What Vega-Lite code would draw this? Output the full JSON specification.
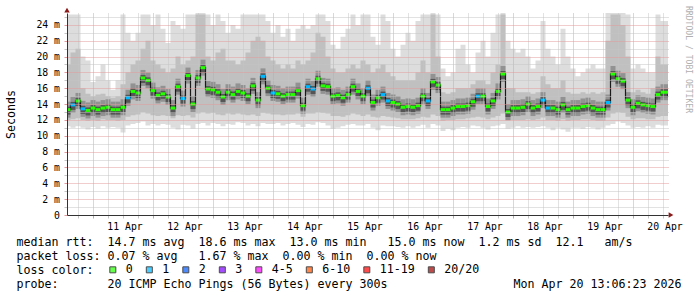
{
  "$schema": "https://vega.github.io/schema/vega-lite/v6.json",
  "width": 601,
  "height": 202,
  "autosize": {"type": "none"},
  "padding": {"left": 67, "top": 13, "right": 29, "bottom": 82},
  "background": "white",
  "config": {"view": {"stroke": null}, "font": "DejaVu Sans Mono"},
  "data": {"values": [
    {"h":13,"e":15,"m":13.3,"l":"0","mn":11.2,"lo":12.0,"hi":19.0,"mx":25.3},
    {"h":15,"e":17,"m":13.9,"l":"1","mn":11.0,"lo":12.1,"hi":20.5,"mx":25.3},
    {"h":17,"e":19,"m":14.4,"l":"0","mn":11.2,"lo":12.2,"hi":21.0,"mx":25.3},
    {"h":19,"e":21,"m":13.4,"l":"1","mn":11.0,"lo":12.0,"hi":16.0,"mx":20.0},
    {"h":21,"e":23,"m":13.2,"l":"0","mn":10.8,"lo":11.9,"hi":15.3,"mx":19.5},
    {"h":23,"e":25,"m":13.5,"l":"0","mn":11.1,"lo":12.0,"hi":15.0,"mx":16.8},
    {"h":25,"e":27,"m":13.3,"l":"0","mn":10.9,"lo":11.9,"hi":15.2,"mx":17.5},
    {"h":27,"e":29,"m":13.5,"l":"0","mn":11.2,"lo":12.1,"hi":15.3,"mx":19.0},
    {"h":29,"e":31,"m":13.6,"l":"0","mn":11.0,"lo":12.0,"hi":15.0,"mx":17.0},
    {"h":31,"e":33,"m":13.3,"l":"0","mn":11.1,"lo":12.0,"hi":14.8,"mx":15.8},
    {"h":33,"e":35,"m":13.3,"l":"0","mn":11.0,"lo":11.9,"hi":15.0,"mx":17.0},
    {"h":35,"e":37,"m":13.6,"l":"0","mn":10.4,"lo":12.0,"hi":16.5,"mx":25.3},
    {"h":37,"e":39,"m":14.8,"l":"1","mn":11.3,"lo":12.4,"hi":18.0,"mx":23.0},
    {"h":39,"e":41,"m":15.6,"l":"0","mn":11.5,"lo":12.6,"hi":19.0,"mx":22.0},
    {"h":41,"e":43,"m":15.4,"l":"0","mn":11.6,"lo":12.7,"hi":19.5,"mx":23.0},
    {"h":43,"e":45,"m":17.3,"l":"0","mn":11.8,"lo":13.0,"hi":21.0,"mx":25.3},
    {"h":45,"e":47,"m":17.0,"l":"0","mn":11.3,"lo":12.8,"hi":22.0,"mx":25.3},
    {"h":47,"e":49,"m":15.7,"l":"0","mn":11.5,"lo":12.6,"hi":19.5,"mx":24.0},
    {"h":49,"e":51,"m":15.1,"l":"0","mn":11.3,"lo":12.5,"hi":19.0,"mx":25.3},
    {"h":51,"e":53,"m":15.3,"l":"0","mn":11.5,"lo":12.6,"hi":18.5,"mx":23.5},
    {"h":53,"e":55,"m":14.9,"l":"0","mn":11.4,"lo":12.5,"hi":18.0,"mx":21.7},
    {"h":55,"e":57,"m":13.5,"l":"0","mn":11.0,"lo":12.2,"hi":18.5,"mx":24.5},
    {"h":57,"e":59,"m":16.2,"l":"0","mn":10.8,"lo":12.6,"hi":20.0,"mx":24.0},
    {"h":59,"e":61,"m":14.7,"l":"1","mn":11.4,"lo":12.5,"hi":19.0,"mx":23.5},
    {"h":61,"e":63,"m":17.6,"l":"0","mn":11.3,"lo":12.6,"hi":19.5,"mx":25.3},
    {"h":63,"e":65,"m":14.0,"l":"0","mn":10.9,"lo":12.3,"hi":20.0,"mx":25.3},
    {"h":65,"e":67,"m":17.3,"l":"0","mn":11.5,"lo":12.8,"hi":25.3,"mx":25.5},
    {"h":67,"e":69,"m":18.6,"l":"0","mn":11.6,"lo":13.0,"hi":25.3,"mx":25.5},
    {"h":69,"e":71,"m":15.9,"l":"0","mn":11.3,"lo":12.8,"hi":20.0,"mx":25.3},
    {"h":71,"e":73,"m":15.8,"l":"0","mn":11.6,"lo":12.9,"hi":19.5,"mx":24.0},
    {"h":73,"e":75,"m":15.5,"l":"0","mn":11.5,"lo":12.7,"hi":20.5,"mx":25.3},
    {"h":75,"e":77,"m":14.9,"l":"0","mn":11.2,"lo":12.6,"hi":21.0,"mx":24.5},
    {"h":77,"e":79,"m":15.5,"l":"0","mn":11.5,"lo":12.8,"hi":19.5,"mx":23.0},
    {"h":79,"e":81,"m":15.2,"l":"0","mn":11.4,"lo":12.7,"hi":19.5,"mx":24.0},
    {"h":81,"e":83,"m":15.6,"l":"0","mn":11.7,"lo":12.8,"hi":19.0,"mx":23.5},
    {"h":83,"e":85,"m":15.4,"l":"0","mn":11.6,"lo":12.7,"hi":19.5,"mx":25.3},
    {"h":85,"e":87,"m":15.0,"l":"0","mn":11.3,"lo":12.6,"hi":20.5,"mx":25.3},
    {"h":87,"e":89,"m":16.3,"l":"0","mn":11.5,"lo":12.7,"hi":22.0,"mx":25.3},
    {"h":89,"e":91,"m":14.5,"l":"0","mn":11.2,"lo":12.5,"hi":22.5,"mx":25.3},
    {"h":91,"e":93,"m":17.5,"l":"1","mn":11.6,"lo":12.9,"hi":22.0,"mx":25.3},
    {"h":93,"e":95,"m":16.0,"l":"0","mn":11.5,"lo":12.8,"hi":20.0,"mx":24.5},
    {"h":95,"e":97,"m":15.4,"l":"1","mn":11.5,"lo":12.7,"hi":19.5,"mx":23.0},
    {"h":97,"e":99,"m":15.3,"l":"0","mn":11.6,"lo":12.7,"hi":19.0,"mx":24.0},
    {"h":99,"e":101,"m":15.0,"l":"0","mn":11.3,"lo":12.6,"hi":18.5,"mx":22.5},
    {"h":101,"e":103,"m":15.2,"l":"0","mn":11.5,"lo":12.7,"hi":19.0,"mx":23.5},
    {"h":103,"e":105,"m":15.2,"l":"0","mn":11.6,"lo":12.7,"hi":18.5,"mx":22.0},
    {"h":105,"e":107,"m":15.7,"l":"0","mn":11.4,"lo":12.8,"hi":19.5,"mx":23.5},
    {"h":107,"e":109,"m":13.8,"l":"0","mn":11.1,"lo":12.4,"hi":19.0,"mx":24.0},
    {"h":109,"e":111,"m":16.2,"l":"1","mn":11.5,"lo":12.8,"hi":19.5,"mx":23.5},
    {"h":111,"e":113,"m":15.9,"l":"1","mn":11.4,"lo":12.8,"hi":20.5,"mx":24.0},
    {"h":113,"e":115,"m":17.2,"l":"0","mn":11.7,"lo":13.0,"hi":23.0,"mx":25.3},
    {"h":115,"e":117,"m":16.3,"l":"0","mn":11.6,"lo":12.9,"hi":22.5,"mx":25.3},
    {"h":117,"e":119,"m":16.2,"l":"0","mn":11.3,"lo":12.8,"hi":20.0,"mx":24.5},
    {"h":119,"e":121,"m":15.0,"l":"0","mn":10.9,"lo":12.5,"hi":18.5,"mx":21.5},
    {"h":121,"e":123,"m":15.1,"l":"0","mn":11.0,"lo":12.5,"hi":18.0,"mx":21.0},
    {"h":123,"e":125,"m":14.8,"l":"0","mn":11.2,"lo":12.4,"hi":18.0,"mx":22.5},
    {"h":125,"e":127,"m":15.2,"l":"0","mn":11.4,"lo":12.6,"hi":18.5,"mx":23.5},
    {"h":127,"e":129,"m":16.2,"l":"0","mn":11.5,"lo":12.8,"hi":19.0,"mx":25.3},
    {"h":129,"e":131,"m":15.6,"l":"0","mn":11.3,"lo":12.7,"hi":18.5,"mx":24.0},
    {"h":131,"e":133,"m":15.0,"l":"0","mn":11.3,"lo":12.5,"hi":19.5,"mx":25.3},
    {"h":133,"e":135,"m":16.0,"l":"1","mn":11.5,"lo":12.7,"hi":19.0,"mx":25.3},
    {"h":135,"e":137,"m":14.2,"l":"0","mn":11.0,"lo":12.4,"hi":18.0,"mx":22.5},
    {"h":137,"e":139,"m":14.8,"l":"0","mn":10.7,"lo":12.3,"hi":18.5,"mx":21.5},
    {"h":139,"e":141,"m":15.2,"l":"1","mn":11.3,"lo":12.5,"hi":19.0,"mx":25.3},
    {"h":141,"e":143,"m":14.4,"l":"1","mn":11.2,"lo":12.4,"hi":18.0,"mx":24.5},
    {"h":143,"e":145,"m":14.2,"l":"0","mn":11.2,"lo":12.3,"hi":17.5,"mx":21.0},
    {"h":145,"e":147,"m":14.0,"l":"0","mn":11.1,"lo":12.2,"hi":17.0,"mx":20.0},
    {"h":147,"e":149,"m":13.6,"l":"0","mn":11.0,"lo":12.1,"hi":17.0,"mx":21.5},
    {"h":149,"e":151,"m":13.7,"l":"0","mn":11.2,"lo":12.1,"hi":17.0,"mx":23.0},
    {"h":151,"e":153,"m":13.6,"l":"0","mn":11.0,"lo":12.1,"hi":17.0,"mx":22.0},
    {"h":153,"e":155,"m":13.8,"l":"0","mn":11.2,"lo":12.2,"hi":18.0,"mx":24.5},
    {"h":155,"e":157,"m":15.0,"l":"0","mn":11.4,"lo":12.4,"hi":19.5,"mx":25.3},
    {"h":157,"e":159,"m":14.4,"l":"1","mn":11.0,"lo":12.3,"hi":18.0,"mx":25.3},
    {"h":159,"e":161,"m":16.8,"l":"0","mn":11.5,"lo":12.7,"hi":25.3,"mx":25.5},
    {"h":161,"e":163,"m":16.4,"l":"0","mn":11.3,"lo":12.5,"hi":20.0,"mx":25.3},
    {"h":163,"e":165,"m":13.3,"l":"0","mn":10.6,"lo":11.9,"hi":15.5,"mx":18.5},
    {"h":165,"e":167,"m":13.3,"l":"0","mn":10.9,"lo":12.0,"hi":15.3,"mx":17.5},
    {"h":167,"e":169,"m":13.5,"l":"0","mn":10.7,"lo":12.0,"hi":15.5,"mx":18.0},
    {"h":169,"e":171,"m":13.7,"l":"0","mn":11.0,"lo":12.1,"hi":16.0,"mx":21.0},
    {"h":171,"e":173,"m":13.7,"l":"0","mn":11.1,"lo":12.1,"hi":16.0,"mx":21.5},
    {"h":173,"e":175,"m":13.8,"l":"0","mn":11.0,"lo":12.2,"hi":16.0,"mx":19.0},
    {"h":175,"e":177,"m":14.3,"l":"0","mn":11.3,"lo":12.3,"hi":16.5,"mx":18.0},
    {"h":177,"e":179,"m":15.0,"l":"1","mn":11.2,"lo":12.4,"hi":17.0,"mx":20.5},
    {"h":179,"e":181,"m":15.0,"l":"0","mn":11.0,"lo":12.3,"hi":17.0,"mx":22.0},
    {"h":181,"e":183,"m":13.7,"l":"0","mn":10.8,"lo":12.1,"hi":16.5,"mx":20.0},
    {"h":183,"e":185,"m":14.4,"l":"0","mn":11.2,"lo":12.3,"hi":18.0,"mx":23.0},
    {"h":185,"e":187,"m":15.6,"l":"0","mn":11.3,"lo":12.5,"hi":19.0,"mx":25.3},
    {"h":187,"e":189,"m":17.8,"l":"0","mn":11.5,"lo":12.8,"hi":25.3,"mx":25.5},
    {"h":189,"e":191,"m":13.0,"l":"0","mn":10.9,"lo":11.9,"hi":16.0,"mx":22.0},
    {"h":191,"e":193,"m":13.5,"l":"0","mn":11.0,"lo":12.0,"hi":16.0,"mx":21.0},
    {"h":193,"e":195,"m":13.5,"l":"0","mn":11.2,"lo":12.0,"hi":15.5,"mx":20.5},
    {"h":195,"e":197,"m":13.6,"l":"0","mn":11.0,"lo":12.0,"hi":15.5,"mx":21.0},
    {"h":197,"e":199,"m":14.0,"l":"0","mn":11.1,"lo":12.1,"hi":15.5,"mx":20.0},
    {"h":199,"e":201,"m":13.5,"l":"0","mn":11.0,"lo":12.0,"hi":15.3,"mx":18.5},
    {"h":201,"e":203,"m":13.7,"l":"0","mn":11.1,"lo":12.1,"hi":15.5,"mx":19.5},
    {"h":203,"e":205,"m":14.5,"l":"1","mn":11.2,"lo":12.3,"hi":17.5,"mx":24.5},
    {"h":205,"e":207,"m":13.5,"l":"1","mn":11.0,"lo":12.0,"hi":16.5,"mx":21.0},
    {"h":207,"e":209,"m":13.5,"l":"0","mn":10.7,"lo":12.0,"hi":16.0,"mx":20.0},
    {"h":209,"e":211,"m":13.3,"l":"0","mn":11.0,"lo":11.9,"hi":16.0,"mx":19.0},
    {"h":211,"e":213,"m":13.9,"l":"0","mn":10.8,"lo":12.1,"hi":17.0,"mx":23.5},
    {"h":213,"e":215,"m":13.3,"l":"0","mn":10.5,"lo":11.9,"hi":15.5,"mx":20.0},
    {"h":215,"e":217,"m":13.5,"l":"0","mn":11.0,"lo":12.0,"hi":15.3,"mx":18.5},
    {"h":217,"e":219,"m":13.5,"l":"0","mn":11.0,"lo":12.0,"hi":15.3,"mx":17.5},
    {"h":219,"e":221,"m":13.7,"l":"0","mn":10.9,"lo":12.1,"hi":15.5,"mx":18.0},
    {"h":221,"e":223,"m":13.8,"l":"0","mn":11.1,"lo":12.1,"hi":15.3,"mx":18.5},
    {"h":223,"e":225,"m":13.5,"l":"0","mn":11.0,"lo":12.0,"hi":15.5,"mx":19.0},
    {"h":225,"e":227,"m":13.3,"l":"0","mn":10.8,"lo":11.9,"hi":15.3,"mx":18.5},
    {"h":227,"e":229,"m":13.3,"l":"0","mn":11.0,"lo":11.9,"hi":15.5,"mx":18.5},
    {"h":229,"e":231,"m":14.2,"l":"1","mn":11.3,"lo":12.3,"hi":22.0,"mx":25.5},
    {"h":231,"e":233,"m":17.8,"l":"0","mn":11.5,"lo":12.8,"hi":25.3,"mx":25.5},
    {"h":233,"e":235,"m":17.2,"l":"0","mn":11.8,"lo":13.0,"hi":25.3,"mx":25.5},
    {"h":235,"e":237,"m":16.9,"l":"0","mn":11.6,"lo":12.9,"hi":24.0,"mx":25.5},
    {"h":237,"e":239,"m":14.5,"l":"0","mn":11.3,"lo":12.4,"hi":20.0,"mx":25.3},
    {"h":239,"e":241,"m":13.6,"l":"0","mn":11.0,"lo":12.1,"hi":15.5,"mx":18.5},
    {"h":241,"e":243,"m":14.1,"l":"0","mn":11.1,"lo":12.2,"hi":15.8,"mx":19.0},
    {"h":243,"e":245,"m":13.9,"l":"0","mn":11.0,"lo":12.2,"hi":15.5,"mx":18.5},
    {"h":245,"e":247,"m":13.8,"l":"0","mn":11.2,"lo":12.1,"hi":15.3,"mx":18.0},
    {"h":247,"e":249,"m":13.7,"l":"0","mn":11.0,"lo":12.1,"hi":16.0,"mx":18.0},
    {"h":249,"e":251,"m":15.2,"l":"0","mn":11.4,"lo":12.4,"hi":20.0,"mx":25.3},
    {"h":251,"e":254,"m":15.5,"l":"0","mn":11.3,"lo":12.5,"hi":19.0,"mx":24.5},
    {"h":254,"e":254,"m":15.0,"l":"0","mn":11.3,"lo":12.5,"hi":19.0,"mx":24.5}
  ]},
  "layer": [
    {
      "mark": {"type": "area", "interpolate": "step-after", "color": "#dddddd", "clip": true},
      "encoding": {
        "x": {
          "field": "h", "type": "quantitative",
          "scale": {"domain": [13.6, 254], "nice": false, "zero": false},
          "axis": {
            "orient": "bottom",
            "values": [18,24,30,36,42,48,54,60,66,72,78,84,90,96,102,108,114,120,126,132,138,144,150,156,162,168,174,180,186,192,198,204,210,216,222,228,234,240,246,252],
            "labelExpr": "datum.value % 24 == 12 ? (floor(datum.value / 24) + 10) + ' Apr' : ''",
            "grid": true,
            "gridColor": {"condition": {"test": "datum.value % 24 == 0", "value": "#e39a9a"}, "value": "#c4c4c4"},
            "gridDash": [1, 1],
            "gridWidth": 1,
            "ticks": true,
            "tickSize": 3,
            "tickColor": {"condition": {"test": "datum.value % 24 == 0", "value": "#e39a9a"}, "value": "#c4c4c4"},
            "domainColor": "#333333",
            "labelFont": "DejaVu Sans Mono",
            "labelFontSize": 9.8,
            "labelColor": "#000000",
            "labelPadding": 3,
            "labelOffset": 1.5,
            "labelFlush": false,
            "labelOverlap": false,
            "labelBound": false,
            "zindex": 1,
            "title": [
              "median rtt:\u00a0\u00a014.7 ms avg\u00a0\u00a018.6 ms max\u00a0\u00a013.0 ms min\u00a0\u00a0\u00a015.0 ms now\u00a0\u00a01.2 ms sd\u00a0\u00a012.1\u00a0\u00a0\u00a0am/s",
              "packet loss:\u00a00.07 % avg\u00a0\u00a0\u00a01.67 % max\u00a0\u00a00.00 % min\u00a0\u00a00.00 % now",
              "loss color:",
              "probe:\u00a0\u00a0\u00a0\u00a0\u00a0\u00a0\u00a020 ICMP Echo Pings (56 Bytes) every 300s\u00a0\u00a0\u00a0\u00a0\u00a0\u00a0\u00a0\u00a0\u00a0\u00a0\u00a0\u00a0\u00a0\u00a0\u00a0\u00a0\u00a0\u00a0Mon Apr 20 13:06:23 2026"
            ],
            "titleX": -51,
            "titleY": 30,
            "titleAlign": "left",
            "titleBaseline": "alphabetic",
            "titleFont": "DejaVu Sans Mono",
            "titleFontSize": 11.63,
            "titleFontWeight": "normal",
            "titleColor": "#000000",
            "titleLineHeight": 14
          }
        },
        "y": {
          "field": "mn", "type": "quantitative",
          "scale": {"domain": [0, 25.5], "nice": false},
          "axis": {
            "orient": "left",
            "values": [0,1,2,3,4,5,6,7,8,9,10,11,12,13,14,15,16,17,18,19,20,21,22,23,24,25],
            "labelExpr": "datum.value % 2 == 0 ? (datum.value == 0 ? '0' : datum.value + ' m') : ''",
            "grid": true,
            "gridColor": {"condition": {"test": "datum.value % 2 == 0", "value": "#e39a9a"}, "value": "#c4c4c4"},
            "gridDash": [1, 1],
            "gridWidth": 1,
            "ticks": true,
            "tickSize": 3,
            "tickColor": {"condition": {"test": "datum.value % 2 == 0", "value": "#e39a9a"}, "value": "#c4c4c4"},
            "domainColor": "#333333",
            "labelFont": "DejaVu Sans Mono",
            "labelFontSize": 9.8,
            "labelColor": "#000000",
            "labelPadding": 4.5,
            "labelFlush": false,
            "labelOverlap": false,
            "labelBound": false,
            "zindex": 1,
            "title": "Seconds",
            "titleX": -56,
            "titleY": 101,
            "titleAngle": -90,
            "titleAlign": "center",
            "titleBaseline": "middle",
            "titleFont": "DejaVu Sans Mono",
            "titleFontSize": 11.63,
            "titleFontWeight": "normal",
            "titleColor": "#000000"
          }
        },
        "y2": {"field": "mx"}
      }
    },
    {
      "mark": {"type": "area", "interpolate": "step-after", "color": "#c0c0c0", "clip": true},
      "encoding": {
        "x": {"field": "h", "type": "quantitative", "axis": null},
        "y": {"field": "lo", "type": "quantitative", "axis": null},
        "y2": {"field": "hi"}
      }
    },
    {
      "mark": {"type": "rule", "strokeWidth": 16, "strokeCap": "butt", "color": "#929292", "clip": true},
      "encoding": {
        "x": {"field": "h", "type": "quantitative", "axis": null},
        "x2": {"field": "e"},
        "y": {"field": "m", "type": "quantitative", "axis": null}
      }
    },
    {
      "mark": {"type": "rule", "strokeWidth": 8, "strokeCap": "butt", "color": "#555555", "yOffset": 1, "clip": true},
      "encoding": {
        "x": {"field": "h", "type": "quantitative", "axis": null},
        "x2": {"field": "e"},
        "y": {"field": "m", "type": "quantitative", "axis": null}
      }
    },
    {
      "mark": {"type": "line", "interpolate": "step-after", "color": "#1a1a1a", "strokeWidth": 1.2, "clip": true},
      "encoding": {
        "x": {"field": "h", "type": "quantitative", "axis": null},
        "y": {"field": "m", "type": "quantitative", "axis": null}
      }
    },
    {
      "mark": {"type": "rule", "strokeWidth": 3, "strokeCap": "butt", "clip": true},
      "encoding": {
        "x": {"field": "h", "type": "quantitative", "axis": null},
        "x2": {"field": "e"},
        "y": {"field": "m", "type": "quantitative", "axis": null},
        "stroke": {
          "field": "l", "type": "nominal", "legend": null,
          "scale": {"range": ["#26ff00","#00b8ff"]}
        }
      }
    },
    {
      "mark": {"type": "point", "shape": "square", "filled": true, "size": 0, "clip": true},
      "encoding": {
        "x": {"field": "h", "type": "quantitative", "axis": null},
        "y": {"field": "m", "type": "quantitative", "axis": null},
        "fill": {
          "field": "l", "type": "nominal",
          "scale": {"domain": ["0","1","2","3","4-5","6-10","11-19","20/20"], "range": ["#26ff00","#00b8ff","#0059ff","#7e00ff","#ff00ff","#ff5500","#ff0000","#a10000"]},
          "legend": {
            "orient": "none", "legendX": 40, "legendY": 251,
            "direction": "horizontal", "columns": 8, "gridAlign": "none",
            "title": null, "padding": 0, "offset": 0,
            "symbolType": "square", "symbolSize": 36,
            "symbolStrokeColor": "#000000", "symbolStrokeWidth": 1,
            "labelFont": "DejaVu Sans Mono", "labelFontSize": 11.63, "labelColor": "#000000",
            "labelOffset": 7, "columnPadding": 10.5, "rowPadding": 0
          }
        }
      }
    },
    {
      "data": {"values": [{"k": 1}]},
      "mark": {"type": "point", "shape": "triangle-right", "filled": true, "color": "#8b1a1a", "size": 30, "opacity": 1, "clip": false},
      "encoding": {
        "x": {"datum": 255.2, "axis": null},
        "y": {"datum": 0, "axis": null}
      }
    },
    {
      "data": {"values": [{"k": 1}]},
      "mark": {"type": "point", "shape": "triangle-up", "filled": true, "color": "#8b1a1a", "size": 30, "opacity": 1, "clip": false},
      "encoding": {
        "x": {"datum": 13.6, "axis": null},
        "y": {
          "datum": 25.85,
          "axis": {
            "orient": "right", "labels": false, "ticks": false, "domain": false, "grid": false,
            "title": "RRDTOOL / TOBI OETIKER",
            "titleAngle": 90, "titleX": 19.5, "titleY": 46,
            "titleAlign": "center", "titleBaseline": "middle",
            "titleFont": "DejaVu Sans Mono", "titleFontSize": 8.1, "titleFontWeight": "normal",
            "titleColor": "#b0b0b0"
          }
        }
      }
    }
  ],
  "resolve": {"axis": {"x": "independent", "y": "independent"}}
}
